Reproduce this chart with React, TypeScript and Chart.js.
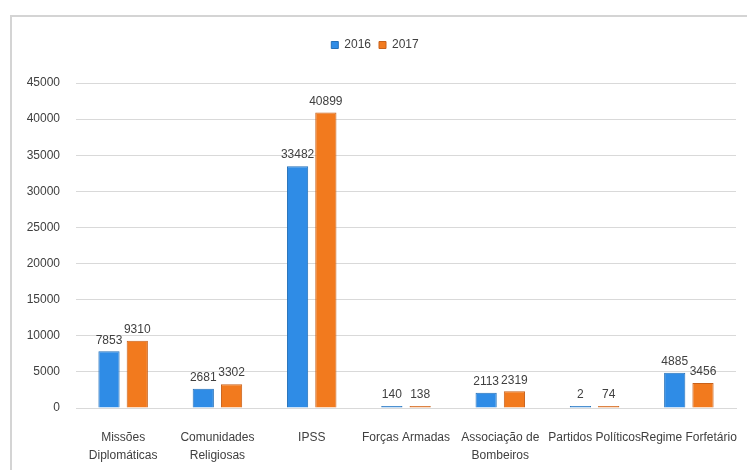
import React, { useEffect, useRef } from "react";
import { Chart, registerables } from "chart.js";

Chart.register(...registerables);

const categories: (string | string[])[] = [
  ["Missões", "Diplomáticas"],
  ["Comunidades", "Religiosas"],
  "IPSS",
  "Forças Armadas",
  ["Associação de", "Bombeiros"],
  "Partidos Políticos",
  "Regime Forfetário",
];
const values2016 = [7853, 2681, 33482, 140, 2113, 2, 4885];
const values2017 = [9310, 3302, 40899, 138, 2319, 74, 3456];
const seriesNames = ["2016", "2017"];
const yTicks = [0, 5000, 10000, 15000, 20000, 25000, 30000, 35000, 40000, 45000];

const FONT = "'Liberation Sans Narrow', 'Liberation Sans', Arial, sans-serif";

const valueLabels = {
  id: "valueLabels",
  afterDatasetsDraw(chart: any) {
    const ctx = chart.ctx;
    ctx.save();
    ctx.font = `12px ${FONT}`;
    ctx.fillStyle = "#404040";
    ctx.textAlign = "center";
    ctx.textBaseline = "bottom";
    chart.data.datasets.forEach((ds: any, i: number) => {
      const meta = chart.getDatasetMeta(i);
      meta.data.forEach((bar: any, j: number) => {
        ctx.fillText(String(ds.data[j]), bar.x, bar.y - 5);
      });
    });
    ctx.restore();
  },
};

const legendGap = {
  id: "legendGap",
  beforeInit(chart: any) {
    const orig = chart.legend.fit;
    chart.legend.fit = function () {
      orig.bind(chart.legend)();
      this.height += 22;
    };
  },
};

export default function App() {
  const ref = useRef<HTMLCanvasElement>(null);
  useEffect(() => {
    if (!ref.current) return;
    const chart = new Chart(ref.current, {
      type: "bar",
      data: {
        labels: categories,
        datasets: [
          {
            label: seriesNames[0],
            data: values2016,
            backgroundColor: "#2F8CE6",
            borderColor: "#2470B8",
            borderWidth: 1,
            minBarLength: 2,
          },
          {
            label: seriesNames[1],
            data: values2017,
            backgroundColor: "#F27A1E",
            borderColor: "#C8611A",
            borderWidth: 1,
            minBarLength: 2,
          },
        ],
      },
      options: {
        animation: false,
        responsive: false,
        maintainAspectRatio: false,
        datasets: { bar: { categoryPercentage: 0.6, barPercentage: 0.75 } },
        layout: { padding: { top: 31, left: 14, right: 11, bottom: 2 } },
        plugins: {
          legend: {
            position: "top",
            labels: {
              boxWidth: 7,
              boxHeight: 7,
              padding: 8,
              color: "#404040",
              font: { family: FONT, size: 12 },
            },
          },
          tooltip: { enabled: false },
        },
        scales: {
          x: {
            grid: { display: false, drawTicks: false },
            border: { color: "#d9d9d9" },
            afterFit: (scale: any) => {
              scale.height = 60;
              scale.paddingLeft = 0;
              scale.paddingRight = 0;
            },
            ticks: {
              color: "#404040",
              font: { family: FONT, size: 12, lineHeight: "18px" },
              maxRotation: 0,
              autoSkip: false,
              padding: 21,
            },
          },
          y: {
            min: 0,
            max: 45000,
            afterBuildTicks: (axis: any) => {
              axis.ticks = yTicks.map((v) => ({ value: v }));
            },
            afterFit: (scale: any) => {
              scale.width = 62;
            },
            grid: { color: "#d9d9d9", lineWidth: 1, drawTicks: false },
            border: { display: false },
            ticks: {
              padding: 16,
              color: "#404040",
              font: { family: FONT, size: 12 },
              callback: (v: any) => String(v),
            },
          },
        },
      },
      plugins: [valueLabels, legendGap],
    });
    return () => chart.destroy();
  }, []);
  return (
    <div style={{ position: "fixed", left: 0, top: 0, width: 747, height: 470, background: "#fff" }}>
      <div
        style={{
          position: "absolute",
          left: 10,
          top: 15,
          width: 740,
          height: 460,
          border: "2px solid #d4d4d4",
          boxSizing: "border-box",
        }}
      />
      <canvas ref={ref} width={747} height={470} style={{ position: "absolute", left: 0, top: 0 }} />
    </div>
  );
}
